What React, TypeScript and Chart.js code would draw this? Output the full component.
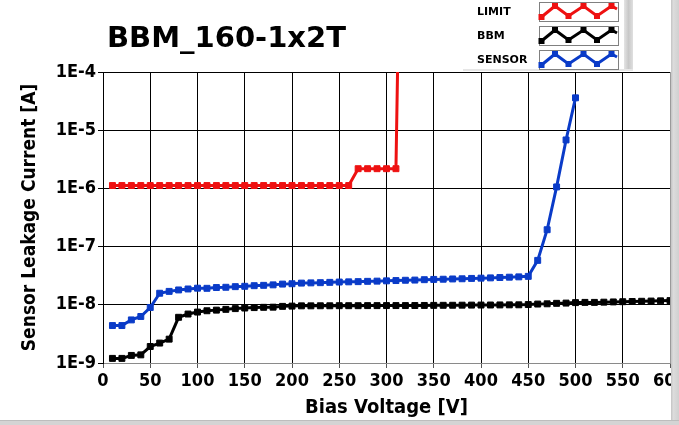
import { useEffect, useRef } from "react";
import { Chart, registerables } from "chart.js";
Chart.register(...registerables);

const voltsBBM = [10, 20, 30, 40, 50, 60, 70, 80, 90, 100, 110, 120, 130, 140, 150, 160, 170, 180, 190, 200, 210, 220, 230, 240, 250, 260, 270, 280, 290, 300, 310, 320, 330, 340, 350, 360, 370, 380, 390, 400, 410, 420, 430, 440, 450, 460, 470, 480, 490, 500, 510, 520, 530, 540, 550, 560, 570, 580, 590, 600];
const bbmCurrent = [1.2e-9, 1.2e-9, 1.35e-9, 1.38e-9, 1.92e-9, 2.2e-9, 2.57e-9, 6.1e-9, 6.94e-9, 7.5e-9, 7.9e-9, 8.1e-9, 8.35e-9, 8.6e-9, 8.8e-9, 8.95e-9, 9.05e-9, 9.1e-9, 9.4e-9, 9.5e-9, 9.6e-9, 9.6e-9, 9.62e-9, 9.62e-9, 9.65e-9, 9.65e-9, 9.65e-9, 9.68e-9, 9.68e-9, 9.7e-9, 9.7e-9, 9.7e-9, 9.72e-9, 9.75e-9, 9.78e-9, 9.8e-9, 9.82e-9, 9.85e-9, 9.88e-9, 9.9e-9, 9.92e-9, 9.95e-9, 9.98e-9, 1.0e-8, 1.01e-8, 1.03e-8, 1.04e-8, 1.06e-8, 1.07e-8, 1.09e-8, 1.1e-8, 1.1e-8, 1.11e-8, 1.12e-8, 1.13e-8, 1.14e-8, 1.15e-8, 1.16e-8, 1.17e-8, 1.18e-8];

const voltsSensor = [10, 20, 30, 40, 50, 60, 70, 80, 90, 100, 110, 120, 130, 140, 150, 160, 170, 180, 190, 200, 210, 220, 230, 240, 250, 260, 270, 280, 290, 300, 310, 320, 330, 340, 350, 360, 370, 380, 390, 400, 410, 420, 430, 440, 450, 460, 470, 480, 490, 500];
const sensorCurrent = [4.4e-9, 4.4e-9, 5.5e-9, 6.3e-9, 9.0e-9, 1.58e-8, 1.7e-8, 1.8e-8, 1.87e-8, 1.93e-8, 1.92e-8, 1.98e-8, 2.0e-8, 2.05e-8, 2.08e-8, 2.13e-8, 2.16e-8, 2.2e-8, 2.27e-8, 2.3e-8, 2.36e-8, 2.38e-8, 2.4e-8, 2.43e-8, 2.46e-8, 2.48e-8, 2.5e-8, 2.53e-8, 2.55e-8, 2.58e-8, 2.61e-8, 2.64e-8, 2.66e-8, 2.7e-8, 2.73e-8, 2.75e-8, 2.78e-8, 2.8e-8, 2.84e-8, 2.87e-8, 2.9e-8, 2.94e-8, 2.98e-8, 3.02e-8, 3.08e-8, 5.8e-8, 1.95e-7, 1.06e-6, 6.8e-6, 3.6e-5];

const voltsLimit = [10, 20, 30, 40, 50, 60, 70, 80, 90, 100, 110, 120, 130, 140, 150, 160, 170, 180, 190, 200, 210, 220, 230, 240, 250, 260, 270, 280, 290, 300, 310, 313];
const limitCurrent = [1.12e-6, 1.12e-6, 1.12e-6, 1.12e-6, 1.12e-6, 1.12e-6, 1.12e-6, 1.12e-6, 1.12e-6, 1.12e-6, 1.12e-6, 1.12e-6, 1.12e-6, 1.12e-6, 1.12e-6, 1.12e-6, 1.12e-6, 1.12e-6, 1.12e-6, 1.12e-6, 1.12e-6, 1.12e-6, 1.12e-6, 1.12e-6, 1.12e-6, 1.12e-6, 2.18e-6, 2.18e-6, 2.18e-6, 2.18e-6, 2.18e-6, 2e-3];

const xTicks = [0, 50, 100, 150, 200, 250, 300, 350, 400, 450, 500, 550, 600];
const yTicks = [1e-9, 1e-8, 1e-7, 1e-6, 1e-5, 1e-4];
const yTickLabels = ["1E-9", "1E-8", "1E-7", "1E-6", "1E-5", "1E-4"];

const seriesNames = ["LIMIT", "BBM", "SENSOR"];
const seriesColors = ["#ee1111", "#000000", "#0a3bc8"];

const chartTitle = "BBM_160-1x2T";
const xTitle = "Bias Voltage [V]";
const yTitle = "Sensor Leakage Current [A]";

const COND = "'DejaVu Sans Condensed', 'DejaVu Sans', sans-serif";
const SANS = "'DejaVu Sans', sans-serif";

const decorPlugin = {
  id: "decor",
  afterDraw(chart: any) {
    const ctx = chart.ctx as CanvasRenderingContext2D;
    const W = chart.width;
    const H = chart.height;
    ctx.save();
    // title
    ctx.fillStyle = "#000";
    ctx.font = `bold 29px ${SANS}`;
    ctx.textAlign = "left";
    ctx.textBaseline = "alphabetic";
    ctx.fillText(chartTitle, 107, 47);

    // legend shadow bar
    const g = ctx.createLinearGradient(624, 0, 633, 0);
    g.addColorStop(0, "#e4e4e4");
    g.addColorStop(0.5, "#c8c8c8");
    g.addColorStop(1, "#e0e0e0");
    ctx.fillStyle = g;
    ctx.fillRect(624, 0, 9, 71);
    ctx.fillStyle = "#e6e6e6";
    ctx.fillRect(463, 69, 170, 2);

    // legend entries
    const rowTops = [2, 26, 50];
    const zig = [[2.5, 15], [16, 4], [29.5, 14], [44.5, 4], [58, 14], [72.5, 4], [78, 7]];
    ctx.font = `bold 11px ${SANS}`;
    ctx.textBaseline = "middle";
    for (let i = 0; i < seriesNames.length; i++) {
      const top = rowTops[i];
      ctx.fillStyle = "#000";
      ctx.fillText(seriesNames[i], 477, top + 10);
      const bx = 539, bw = 79, bh = 19;
      ctx.fillStyle = "#fff";
      ctx.fillRect(bx, top, bw, bh);
      ctx.strokeStyle = "#808080";
      ctx.lineWidth = 1;
      ctx.strokeRect(bx + 0.5, top + 0.5, bw, bh);
      ctx.strokeStyle = seriesColors[i];
      ctx.lineWidth = 3;
      ctx.lineJoin = "miter";
      ctx.beginPath();
      zig.forEach(([zx, zy], k) => {
        if (k === 0) ctx.moveTo(bx + zx, top + zy);
        else ctx.lineTo(bx + zx, top + zy);
      });
      ctx.stroke();
      ctx.fillStyle = seriesColors[i];
      for (let k = 0; k < 6; k++) {
        const [zx, zy] = zig[k];
        ctx.fillRect(bx + zx - 3, top + zy - 3, 6, 6);
      }
    }

    // right frame bar
    const g2 = ctx.createLinearGradient(671, 0, W, 0);
    g2.addColorStop(0, "#c4c4c4");
    g2.addColorStop(0.3, "#dcdcdc");
    g2.addColorStop(1, "#d0d0d0");
    ctx.fillStyle = g2;
    ctx.fillRect(671, 0, W - 671, H);
    // bottom frame bar
    ctx.fillStyle = "#d4d4d4";
    ctx.fillRect(0, 420, W, H - 420);
    ctx.fillStyle = "#bdbdbd";
    ctx.fillRect(0, 420, W, 1);
    ctx.restore();
  },
};

export default function App() {
  const ref = useRef<HTMLCanvasElement>(null);
  useEffect(() => {
    const canvas = ref.current!;
    const mk = (xs: number[], ys: number[]) => xs.map((x, i) => ({ x, y: ys[i] }));
    const ds = (label: string, color: string, data: any[]) => ({
      label,
      data,
      borderColor: color,
      backgroundColor: color,
      borderWidth: 3,
      pointStyle: "rect",
      pointRadius: 4.2,
      pointBorderWidth: 1,
      pointBorderColor: color,
      pointBackgroundColor: color,
      tension: 0,
      fill: false,
    });
    const chart = new Chart(canvas, {
      type: "line",
      data: {
        datasets: [
          ds(seriesNames[1], seriesColors[1], mk(voltsBBM, bbmCurrent)),
          ds(seriesNames[2], seriesColors[2], mk(voltsSensor, sensorCurrent)),
          ds(seriesNames[0], seriesColors[0], mk(voltsLimit, limitCurrent)),
        ],
      },
      options: {
        animation: false,
        responsive: false,
        events: [],
        layout: { padding: { top: 72, right: 9, left: 0, bottom: 0 } },
        plugins: {
          legend: { display: false },
          tooltip: { enabled: false },
          title: { display: false },
        },
        scales: {
          x: {
            type: "linear",
            min: 0,
            max: 600,
            afterBuildTicks: (s: any) => {
              s.ticks = xTicks.map((v) => ({ value: v }));
            },
            afterFit: (s: any) => {
              s.height = 62;
              s.paddingLeft = 0;
              s.paddingRight = 0;
            },
            grid: {
              color: (c: any) => (c.tick && c.tick.value === 600 ? "#9a9a9a" : "#000"),
              tickColor: "#555",
              tickLength: 5,
              lineWidth: 1,
            },
            border: { color: "#8a8a8a", width: 1 },
            ticks: {
              autoSkip: false,
              maxRotation: 0,
              padding: 3,
              color: "#000",
              font: { family: COND, size: 18, weight: "bold" },
              callback: (v: any) => String(v),
            },
            title: {
              display: true,
              text: xTitle,
              color: "#000",
              font: { family: COND, size: 20, weight: "bold" },
              padding: { top: 0, bottom: 5 },
            },
          },
          y: {
            type: "logarithmic",
            min: 1e-9,
            max: 1e-4,
            afterBuildTicks: (s: any) => {
              s.ticks = yTicks.map((v) => ({ value: v }));
            },
            afterFit: (s: any) => {
              s.width = 103;
              s.paddingTop = 0;
              s.paddingBottom = 0;
            },
            grid: {
              color: (c: any) => (c.tick && c.tick.value < 1.5e-9 ? "rgba(0,0,0,0)" : "#000"),
              tickColor: "#000",
              tickLength: 5,
              lineWidth: 1,
            },
            border: { color: "#000", width: 1 },
            ticks: {
              padding: 2,
              color: "#000",
              font: { family: COND, size: 18, weight: "bold" },
              callback: (_v: any, i: number) => yTickLabels[i],
            },
            title: {
              display: true,
              text: yTitle,
              color: "#000",
              font: { family: COND, size: 19, weight: "bold" },
              padding: { top: 18.5, bottom: 0 },
            },
          },
        },
      } as any,
      plugins: [decorPlugin],
    });
    return () => chart.destroy();
  }, []);
  return (
    <div style={{ position: "fixed", left: 0, top: 0, width: 679, height: 425, background: "#fff" }}>
      <canvas ref={ref} width={679} height={425} style={{ display: "block" }} />
    </div>
  );
}
